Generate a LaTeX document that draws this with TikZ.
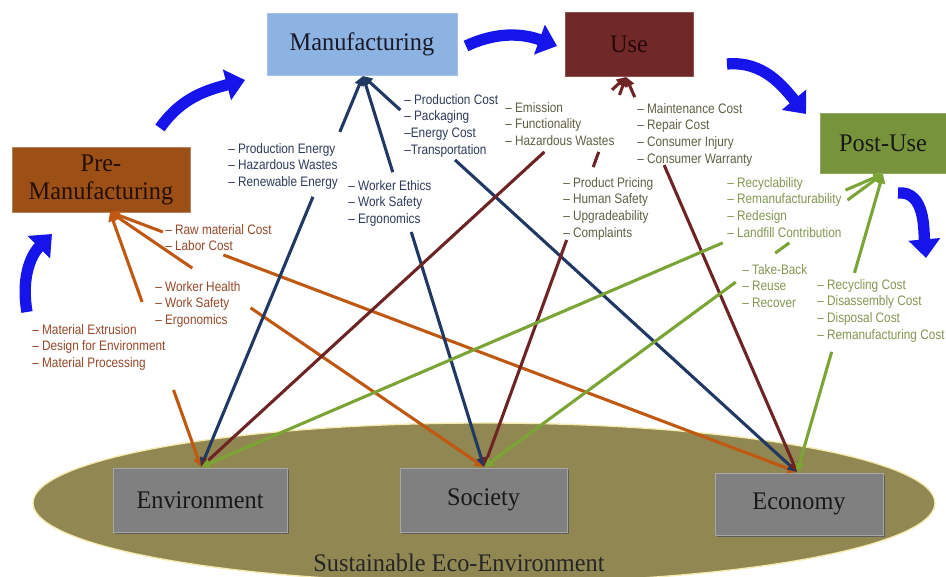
\documentclass[tikz,border=0pt]{standalone}
\usepackage{fontspec}
\setmainfont{Liberation Serif}
\newfontfamily\labfont[FakeStretch=0.86]{Liberation Sans}
\newfontfamily\titfont[FakeStretch=0.96]{Liberation Serif}
\usetikzlibrary{arrows.meta,calc,shadows}
\definecolor{pmfill}{RGB}{156,80,22}
\definecolor{mfill}{RGB}{141,179,226}
\definecolor{ufill}{RGB}{112,40,40}
\definecolor{pufill}{RGB}{119,147,60}
\definecolor{gbox}{RGB}{128,128,128}
\definecolor{ecofill}{RGB}{145,135,82}
\definecolor{ecorim}{RGB}{245,235,175}
\definecolor{pmline}{RGB}{192,88,18}
\definecolor{mline}{RGB}{31,56,100}
\definecolor{uline}{RGB}{110,36,36}
\definecolor{puline}{RGB}{122,165,52}
\definecolor{pmtext}{RGB}{150,72,40}
\definecolor{mtext}{RGB}{45,58,90}
\definecolor{utext}{RGB}{95,95,68}
\definecolor{putext}{RGB}{130,150,80}
\definecolor{bluearr}{RGB}{20,20,235}
\tikzset{
  phasebox/.style={rectangle, inner sep=0pt, align=center,
    font=\titfont\fontsize{19}{21}\selectfont},
  pillar/.style={rectangle, inner sep=0pt, fill=gbox, draw=gray!70,
    line width=0.6pt, font=\titfont\fontsize{19}{21}\selectfont, text=black!90,
    drop shadow={shadow xshift=1.5pt, shadow yshift=-1.5pt, fill=black!65, opacity=0.9}},
  lab/.style={font=\labfont\fontsize{10.3}{12.5}\selectfont, align=left,
    anchor=north west, inner sep=0pt},
  conn/.style={line width=2.3pt},
  bigarrow/.style={bluearr, line width=8.5pt, -{Triangle[width=23pt,length=14pt]}},
}
\newcommand\linkseg[5]{%
  \draw[conn,#1,{Triangle[length=7pt,width=7pt]}-] (#2) -- ($(#2)!#4!(#3)$);
  \draw[conn,#1,-{Triangle[length=7pt,width=7pt]}] ($(#2)!#5!(#3)$) -- (#3);}
\begin{document}
\begin{tikzpicture}[x=0.75pt,y=-0.75pt]
\useasboundingbox (0,0) rectangle (946,577);
\clip (0,0) rectangle (946,577);
\fill[white] (0,0) rectangle (946,577);
% eco ellipse
\fill[ecofill] (484,503) ellipse [x radius=338.25pt, y radius=60pt];
\draw[ecorim, line width=1pt] (484,503) ellipse [x radius=338.25pt, y radius=60pt];
\node[font=\titfont\fontsize{19}{21}\selectfont, text=black!85] (sus) at (459,563) {Sustainable Eco-Environment};
% pillars
\node[pillar, minimum width=130.5pt, minimum height=48pt] (env) at (200,500) {Environment};
\node[pillar, minimum width=125.25pt, minimum height=48pt] (soc) at (483.5,500) {Society};
\node[pillar, minimum width=126pt, minimum height=46.5pt] (eco) at (799,504) {Economy};
% phase boxes
\node[phasebox, fill=mfill, draw=mfill!80!white, minimum width=142.5pt, minimum height=46.5pt, text={rgb,255:red,25;green,25;blue,40}] (man) at (362,44) {Manufacturing};
\node[phasebox, fill=ufill, draw=ufill!80!white, minimum width=96pt, minimum height=48pt, text={rgb,255:red,40;green,8;blue,8}] (use) at (629,44) {Use};
\node[phasebox, fill=pufill, draw=pufill!80!white, minimum width=94.5pt, minimum height=45pt, text=black!90] (post) at (883,143) {Post-Use};
\node[phasebox, fill=pmfill, draw=pmfill!70!white, minimum width=133.5pt, minimum height=48.75pt, text={rgb,255:red,35;green,15;blue,5}] (pre) at (101,179.5) {Pre-\\Manufacturing};
% connector end points
\coordinate (pmP) at (110,212);
\coordinate (mP) at (363,76);
\coordinate (uP) at (626,77);
\coordinate (puP) at (883,174);
\coordinate (envT) at (201,467);
\coordinate (socT) at (484,467);
\coordinate (ecoT) at (797,472);
% pre-manufacturing links
\linkseg{pmline}{pmP}{envT}{0.353}{0.698}
\linkseg{pmline}{pmP}{socT}{0.22}{0.376}
\linkseg{pmline}{pmP}{ecoT}{0.077}{0.165}
% manufacturing links
\linkseg{mline}{mP}{envT}{0.143}{0.309}
\linkseg{mline}{mP}{socT}{0.246}{0.399}
\linkseg{mline}{mP}{ecoT}{0.086}{0.212}
% use links
\linkseg{uline}{uP}{envT}{0.033}{0.192}
\linkseg{uline}{uP}{socT}{0.046}{0.418}
\draw[conn,uline] ($(uP)!0.192!(socT)$) -- ($(uP)!0.231!(socT)$);
\linkseg{uline}{uP}{ecoT}{0.051}{0.223}
% post-use links
\linkseg{puline}{puP}{envT}{0.055}{0.235}
\linkseg{puline}{puP}{socT}{0.089}{0.369}
\draw[conn,puline] ($(puP)!0.235!(socT)$) -- ($(puP)!0.27!(socT)$);
\linkseg{puline}{puP}{ecoT}{0.332}{0.597}
% labels
\node[lab, text=pmtext] (l1) at (165,224) {– Raw material Cost\\– Labor Cost};
\node[lab, text=pmtext] (l2) at (155,281) {– Worker Health\\– Work Safety\\– Ergonomics};
\node[lab, text=pmtext] (l3) at (32,324) {– Material Extrusion\\– Design for Environment\\– Material Processing};
\node[lab, text=mtext] (l4) at (228,143) {– Production Energy\\– Hazardous Wastes\\– Renewable Energy};
\node[lab, text=mtext] (l5) at (348,180) {– Worker Ethics\\– Work Safety\\– Ergonomics};
\node[lab, text=mtext] (l6) at (404,94) {– Production Cost\\– Packaging\\–Energy Cost\\–Transportation};
\node[lab, text=utext] (l7) at (505,102) {– Emission\\– Functionality\\– Hazardous Wastes};
\node[lab, text=utext] (l8) at (637,103) {– Maintenance Cost\\– Repair Cost\\– Consumer Injury\\– Consumer Warranty};
\node[lab, text=utext] (l9) at (563,177) {– Product Pricing\\– Human Safety\\– Upgradeability\\– Complaints};
\node[lab, text=putext] (l10) at (727,177) {– Recyclability\\– Remanufacturability\\– Redesign\\– Landfill Contribution};
\node[lab, text=putext] (l11) at (742,264) {– Take-Back\\– Reuse\\– Recover};
\node[lab, text=putext] (l12) at (817,279) {– Recycling Cost\\– Disassembly Cost\\– Disposal Cost\\– Remanufacturing Cost};
% blue cycle arrows
\coordinate (a1s) at (27,312); \coordinate (a1e) at (52,234);
\coordinate (a2s) at (160,128); \coordinate (a2e) at (245,80);
\coordinate (a3s) at (466,46); \coordinate (a3e) at (557,46);
\coordinate (a4s) at (727,64); \coordinate (a4e) at (806,114);
\coordinate (a5s) at (898,193); \coordinate (a5e) at (926,258);
\draw[bigarrow] (a1s) to[out=100,in=225] (a1e);
\draw[bigarrow] (a2s) to[out=55,in=195] (a2e);
\draw[bigarrow] (a3s) to[out=25,in=160] (a3e);
\draw[bigarrow] (a4s) to[out=5,in=130] (a4e);
\draw[bigarrow] (a5s) to[out=5,in=95] (a5e);
\end{tikzpicture}
\end{document}
